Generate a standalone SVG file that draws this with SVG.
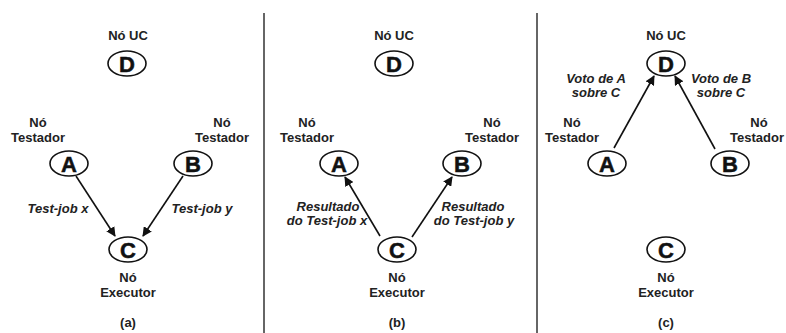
<svg xmlns="http://www.w3.org/2000/svg" width="786" height="333" viewBox="0 0 786 333">
  <style>
    .bg { fill: #ffffff; }
    .node { fill: #ffffff; stroke: #111111; stroke-width: 1.6; }
    .letter { font-family: "Liberation Sans", Arial, sans-serif; font-weight: bold; font-size: 22px; fill: #111111; stroke: #111111; stroke-width: 0.5; text-anchor: middle; }
    .lbl { font-family: "Liberation Sans", Arial, sans-serif; font-weight: bold; font-size: 13px; fill: #222222; text-anchor: middle; }
    .it { font-family: "Liberation Sans", Arial, sans-serif; font-weight: bold; font-style: italic; font-size: 13px; fill: #222222; text-anchor: middle; }
    .edge { stroke: #111111; stroke-width: 1.6; fill: none; marker-end: url(#arrow); }
    .divider { stroke: #333333; stroke-width: 1.5; }
  </style>
  <defs>
    <marker id="arrow" viewBox="0 0 10 10" refX="9" refY="5" markerWidth="6" markerHeight="6" orient="auto" markerUnits="strokeWidth">
      <path d="M0,0 L10,5 L0,10 z" fill="#111111"/>
    </marker>
  </defs>
  <rect class="bg" x="0" y="0" width="786" height="333"/>

  <!-- panel dividers -->
  <g id="dividers">
    <line class="divider" x1="264" y1="13" x2="264" y2="333"/>
    <line class="divider" x1="537" y1="13" x2="537" y2="333"/>
  </g>

  <!-- connectors -->
  <g id="connectors">
    <line class="edge" x1="76" y1="176" x2="115" y2="236"/>
    <line class="edge" x1="183" y1="176" x2="143" y2="236"/>
    <line class="edge" x1="380" y1="236" x2="345" y2="177"/>
    <line class="edge" x1="412" y1="237" x2="452" y2="177"/>
    <line class="edge" x1="614" y1="148" x2="654" y2="76"/>
    <line class="edge" x1="715" y1="149" x2="675" y2="76"/>
  </g>

  <!-- panel (a) -->
  <g id="a-D">
    <text class="lbl" x="128" y="40">Nó UC</text>
    <ellipse class="node" cx="127" cy="63.5" rx="19" ry="12.5"/>
    <text class="letter" x="127" y="71.5">D</text>
  </g>
  <g id="a-A">
    <text class="lbl" x="38" y="127">Nó</text>
    <text class="lbl" x="38" y="142">Testador</text>
    <ellipse class="node" cx="69" cy="163.5" rx="19" ry="12.5"/>
    <text class="letter" x="69" y="171.5">A</text>
  </g>
  <g id="a-B">
    <text class="lbl" x="222" y="127">Nó</text>
    <text class="lbl" x="222" y="142">Testador</text>
    <ellipse class="node" cx="193" cy="163.5" rx="19" ry="12.5"/>
    <text class="letter" x="193" y="171.5">B</text>
  </g>
  <g id="a-C">
    <ellipse class="node" cx="128" cy="249.5" rx="19" ry="12.5"/>
    <text class="letter" x="128" y="257.5">C</text>
    <text class="lbl" x="128" y="282">Nó</text>
    <text class="lbl" x="128" y="297">Executor</text>
  </g>
  <g id="a-labels">
    <text class="it" x="58" y="213">Test-job x</text>
    <text class="it" x="202" y="213">Test-job y</text>
    <text class="lbl" x="128" y="327">(a)</text>
  </g>

  <!-- panel (b) -->
  <g id="b-D">
    <text class="lbl" x="394" y="40">Nó UC</text>
    <ellipse class="node" cx="394" cy="63.5" rx="19" ry="12.5"/>
    <text class="letter" x="394" y="71.5">D</text>
  </g>
  <g id="b-A">
    <text class="lbl" x="307" y="127">Nó</text>
    <text class="lbl" x="307" y="142">Testador</text>
    <ellipse class="node" cx="339" cy="163.5" rx="19" ry="12.5"/>
    <text class="letter" x="339" y="171.5">A</text>
  </g>
  <g id="b-B">
    <text class="lbl" x="492" y="127">Nó</text>
    <text class="lbl" x="492" y="142">Testador</text>
    <ellipse class="node" cx="462" cy="163.5" rx="19" ry="12.5"/>
    <text class="letter" x="462" y="171.5">B</text>
  </g>
  <g id="b-C">
    <ellipse class="node" cx="397" cy="249.5" rx="19" ry="12.5"/>
    <text class="letter" x="397" y="257.5">C</text>
    <text class="lbl" x="397" y="282">Nó</text>
    <text class="lbl" x="397" y="297">Executor</text>
  </g>
  <g id="b-labels">
    <text class="it" x="328" y="211">Resultado</text>
    <text class="it" x="327" y="225">do Test-job x</text>
    <text class="it" x="473" y="211">Resultado</text>
    <text class="it" x="474" y="225">do Test-job y</text>
    <text class="lbl" x="397" y="327">(b)</text>
  </g>

  <!-- panel (c) -->
  <g id="c-D">
    <text class="lbl" x="666" y="40">Nó UC</text>
    <ellipse class="node" cx="666" cy="63.5" rx="19" ry="12.5"/>
    <text class="letter" x="666" y="71.5">D</text>
  </g>
  <g id="c-A">
    <text class="lbl" x="572" y="127">Nó</text>
    <text class="lbl" x="572" y="142">Testador</text>
    <ellipse class="node" cx="607" cy="163.5" rx="19" ry="12.5"/>
    <text class="letter" x="607" y="171.5">A</text>
  </g>
  <g id="c-B">
    <text class="lbl" x="759" y="127">Nó</text>
    <text class="lbl" x="757" y="142">Testador</text>
    <ellipse class="node" cx="730" cy="163.5" rx="19" ry="12.5"/>
    <text class="letter" x="730" y="171.5">B</text>
  </g>
  <g id="c-C">
    <ellipse class="node" cx="666" cy="249.5" rx="19" ry="12.5"/>
    <text class="letter" x="666" y="257.5">C</text>
    <text class="lbl" x="666" y="282">Nó</text>
    <text class="lbl" x="666" y="297">Executor</text>
  </g>
  <g id="c-labels">
    <text class="it" x="596" y="83">Voto de A</text>
    <text class="it" x="596" y="97">sobre C</text>
    <text class="it" x="721" y="83">Voto de B</text>
    <text class="it" x="721" y="97">sobre C</text>
    <text class="lbl" x="666" y="327">(c)</text>
  </g>
</svg>
